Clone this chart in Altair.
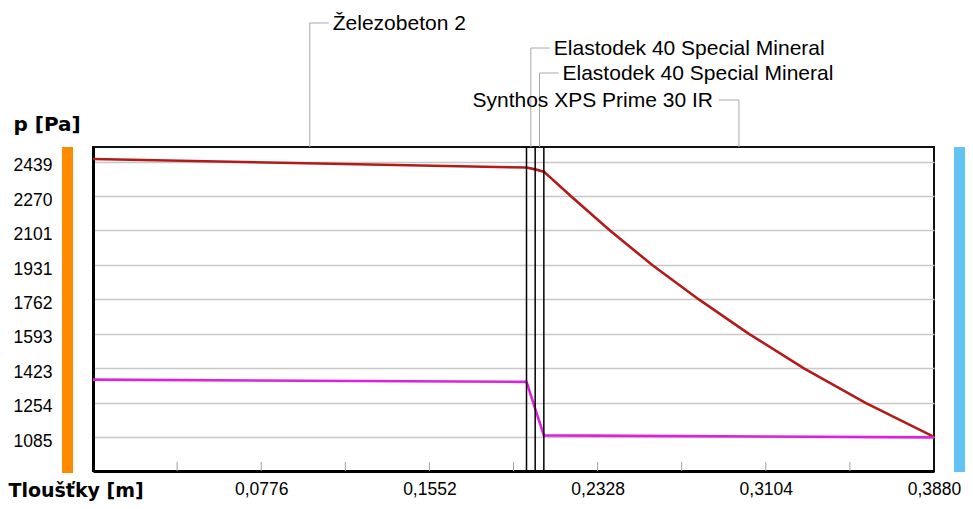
import altair as alt
import pandas as pd

# ---- data ----
layer_names = ["Železobeton 2", "Elastodek 40 Special Mineral",
               "Elastodek 40 Special Mineral", "Synthos XPS Prime 30 IR"]
layer_thickness = [0.200, 0.004, 0.004, 0.180]
label_levels = [-124, -99, -74, -47]      # label height above plot top (px)
label_sides = [1, 1, 1, -1]               # label to the right (1) or left (-1)

# saturated vapour pressure (red)
psat_x = [0.0, 0.200, 0.204, 0.208, 0.2204, 0.2385, 0.2580, 0.2795, 0.3026, 0.3280, 0.3564, 0.3880]
psat_y = [2452, 2410, 2401, 2390, 2270, 2101, 1931, 1762, 1593, 1423, 1254, 1087]

# partial vapour pressure (magenta)
p_x = [0.0, 0.200, 0.204, 0.208, 0.3880]
p_y = [1368, 1357, 1225, 1094, 1084]

y_ticks = [1085, 1254, 1423, 1593, 1762, 1931, 2101, 2270, 2439]
x_labels = [0.0776, 0.1552, 0.2328, 0.3104, 0.3880]
x_minor = [0.0388, 0.0776, 0.1164, 0.1552, 0.1940, 0.2328, 0.2716, 0.3104, 0.3492]

# ---- derived tables ----
bounds = []
mids = []
acc = 0.0
for t in layer_thickness:
    mids.append(acc + t / 2)
    acc += t
    bounds.append(acc)
bounds = bounds[:-1]

lines_df = pd.concat([
    pd.DataFrame({"x": psat_x, "p": psat_y, "s": "psat"}),
    pd.DataFrame({"x": p_x, "p": p_y, "s": "p"}),
])
bounds_df = pd.DataFrame({"b": bounds})
minor_df = pd.DataFrame({"t": x_minor})
labels_df = pd.DataFrame({"name": layer_names, "mid": mids, "ly": label_levels, "side": label_sides})

W, H = 841, 324
LBL_FONT = "Liberation Sans"
BOLD_FONT = "DejaVu Sans"
LEADER = "#A8A8A8"

lines = alt.Chart(lines_df).mark_line(strokeWidth=2.6).encode(
    x=alt.X("x:Q",
            scale=alt.Scale(domain=[0, 0.388], nice=False, zero=False),
            axis=alt.Axis(values=x_labels, grid=False, ticks=False,
                          domainColor="black", domainWidth=3,
                          labelExpr="replace(format(datum.value, '.4f'), '.', ',')",
                          labelFont=LBL_FONT, labelFontSize=17.5, labelColor="black",
                          labelPadding=9, labelFlush=False, labelOverlap=False,
                          title="Tloušťky [m]", titleX=-85, titleY=19,
                          titleAlign="left", titleBaseline="middle",
                          titleFont=BOLD_FONT, titleFontWeight="bold",
                          titleFontSize=19, titleColor="black")),
    y=alt.Y("p:Q",
            scale=alt.Scale(domain=[919, 2511], nice=False, zero=False),
            axis=alt.Axis(values=y_ticks, format="d", grid=True,
                          gridColor="#C8C8C8", gridWidth=1.5, ticks=False,
                          domainColor="black", domainWidth=3,
                          labelAlign="left", labelBaseline="middle",
                          labelPadding=80, labelOffset=4,
                          labelFont=LBL_FONT, labelFontSize=17.5, labelColor="black",
                          title="p [Pa]", titleAngle=0, titleX=-80, titleY=-23,
                          titleAlign="left", titleBaseline="middle",
                          titleFont=BOLD_FONT, titleFontWeight="bold",
                          titleFontSize=20, titleColor="black")),
    color=alt.Color("s:N", scale=alt.Scale(domain=["psat", "p"],
                                           range=["#B31B1B", "#DD22DD"]),
                    legend=None),
)

boundaries = alt.Chart(bounds_df).mark_rule(color="black", strokeWidth=1.5).encode(
    x=alt.X("b:Q", axis=None))

minor = alt.Chart(minor_df).mark_rule(color="#A0A0A0", strokeWidth=1).encode(
    x=alt.X("t:Q", axis=None), y=alt.value(H), y2=alt.value(H - 9))


def leaders(side, dx_line, dx_text, align):
    base = alt.Chart(labels_df).transform_filter(alt.datum.side == side)
    vert = base.mark_rule(color=LEADER, strokeWidth=1).encode(
        x=alt.X("mid:Q", axis=None),
        y=alt.Y("ly:Q", scale=None), y2=alt.value(0))
    horiz = base.mark_rule(color=LEADER, strokeWidth=1, x2Offset=dx_line).encode(
        x=alt.X("mid:Q", axis=None), x2="mid:Q",
        y=alt.Y("ly:Q", scale=None))
    text = base.mark_text(align=align, baseline="middle", dx=dx_text, dy=1,
                          font=LBL_FONT, fontSize=21, color="black").encode(
        x=alt.X("mid:Q", axis=None), y=alt.Y("ly:Q", scale=None), text="name:N")
    return [vert, horiz, text]


one = pd.DataFrame({"k": [0]})
inner_bar = alt.Chart(one).mark_rect(color="#FF8A00").encode(
    x=alt.value(-31), x2=alt.value(-20), y=alt.value(0), y2=alt.value(H + 2))
outer_bar = alt.Chart(one).mark_rect(color="#62C4F5").encode(
    x=alt.value(W + 20), x2=alt.value(W + 31), y=alt.value(0), y2=alt.value(H + 1))

chart = alt.layer(
    lines, minor, boundaries,
    *leaders(1, 19, 23, "left"),
    *leaders(-1, -20, -26, "right"),
    inner_bar, outer_bar,
).resolve_axis(
    x="independent", y="independent"
).properties(
    width=W, height=H,
    padding={"left": 85, "top": 139, "right": 31, "bottom": 30},
    autosize=alt.AutoSizeParams(type="none"),
    background="white",
).configure(font=LBL_FONT).configure_view(stroke="#111111", strokeWidth=2)

chart.save("out.html", embed_options={"renderer": "svg", "actions": False})
